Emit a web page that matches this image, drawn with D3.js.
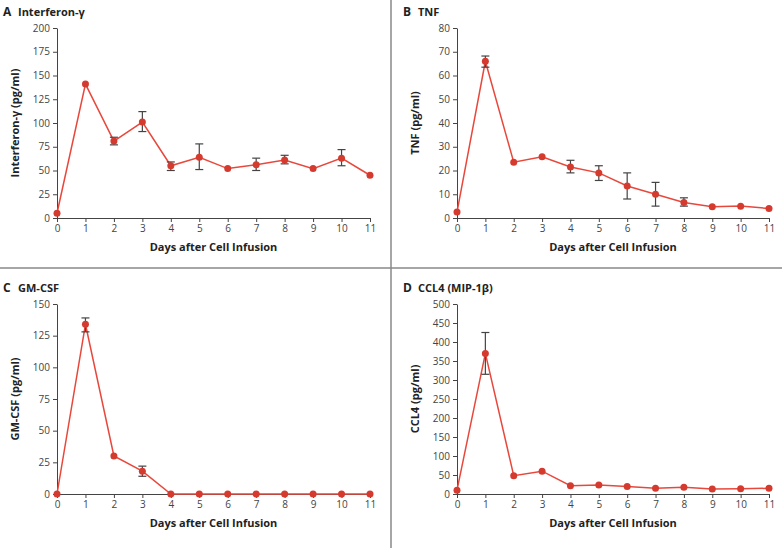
<!DOCTYPE html><html><head><meta charset="utf-8">
<script src="https://d3js.org/d3.v7.min.js"></script>
<style>body{margin:0;background:#fff}text{font-family:"Open Sans",Lato,sans-serif}</style></head><body>
<svg id="c" width="782" height="548"></svg>
<script>
const days=[0,1,2,3,4,5,6,7,8,9,10,11];
const ifnVals=[5,141,81,101,55,64,52,56,61,52,63,45];
const ifnLo=[null,null,77,91,50,51,null,50,57,null,55,null];
const ifnHi=[null,null,85,112,59,78,null,63,66,null,72,null];
const tnfVals=[2.5,66,23.5,25.8,21.5,19,13.5,10,6.5,4.7,5,4];
const tnfLo=[null,63.5,null,null,19,15.8,8,5,5,null,null,null];
const tnfHi=[null,68.2,null,null,24.3,22,19,15,8.5,null,null,null];
const gmVals=[0,134,30,18,0,0,0,0,0,0,0,0];
const gmLo=[null,128,null,14,null,null,null,null,null,null,null,null];
const gmHi=[null,139,null,22,null,null,null,null,null,null,null,null];
const cclVals=[10,370,48,60,22,24,20,15,18,13,14,15];
const cclLo=[null,315,null,null,null,null,null,null,null,null,null,null];
const cclHi=[null,425,null,null,null,null,null,null,null,null,null,null];
const panels=[
 {letter:"A",title:"Interferon-γ",ylab:"Interferon-γ (pg/ml)",vals:ifnVals,lo:ifnLo,hi:ifnHi,max:200,step:25,x0:57,x1:370,y0:218,y1:28},
 {letter:"B",title:"TNF",ylab:"TNF (pg/ml)",vals:tnfVals,lo:tnfLo,hi:tnfHi,max:80,step:10,x0:457,x1:769,y0:218,y1:28},
 {letter:"C",title:"GM-CSF",ylab:"GM-CSF (pg/ml)",vals:gmVals,lo:gmLo,hi:gmHi,max:150,step:25,x0:57,x1:370,y0:494,y1:304},
 {letter:"D",title:"CCL4 (MIP-1β)",ylab:"CCL4 (pg/ml)",vals:cclVals,lo:cclLo,hi:cclHi,max:500,step:50,x0:457,x1:769,y0:494,y1:304}];
const svg=d3.select("#c");
svg.append("line").attr("x1",391).attr("x2",391).attr("y1",0).attr("y2",548).attr("stroke","#888").attr("stroke-width",1.5);
svg.append("line").attr("x1",0).attr("x2",782).attr("y1",268).attr("y2",268).attr("stroke","#888").attr("stroke-width",1.5);
panels.forEach(p=>{
 const x=d3.scaleLinear().domain([0,11]).range([p.x0,p.x1]);
 const y=d3.scaleLinear().domain([0,p.max]).range([p.y0,p.y1]);
 const g=svg.append("g");
 const tx=p.x0-57+3, ty=p.y1-12;
 g.append("text").attr("x",tx).attr("y",ty).attr("font-size",12).attr("font-weight",700).attr("fill","#222").text(p.letter);
 g.append("text").attr("x",tx+15).attr("y",ty).attr("font-size",11).attr("font-weight",700).attr("fill","#222").text(p.title);
 const xa=g.append("g").attr("transform",`translate(0,${p.y0})`).call(d3.axisBottom(x).tickValues(days).tickSize(4).tickSizeOuter(0));
 const ya=g.append("g").attr("transform",`translate(${p.x0},0)`).call(d3.axisLeft(y).tickValues(d3.range(0,p.max+1,p.step)).tickSize(4).tickSizeOuter(0));
 [xa,ya].forEach(a=>{a.selectAll("path,line").attr("stroke","#444");a.selectAll("text").attr("font-size",10).attr("fill","#444");});
 g.append("text").attr("x",(p.x0+p.x1)/2).attr("y",p.y0+33).attr("text-anchor","middle").attr("font-size",11).attr("font-weight",700).attr("fill","#222").text("Days after Cell Infusion");
 g.append("text").attr("transform",`translate(${p.x0-38},${(p.y0+p.y1)/2}) rotate(-90)`).attr("text-anchor","middle").attr("font-size",11).attr("font-weight",700).attr("fill","#222").text(p.ylab);
 g.append("path").datum(p.vals).attr("fill","none").attr("stroke","#e8483c").attr("stroke-width",1.5)
  .attr("d",d3.line().x((d,i)=>x(days[i])).y(d=>y(d)));
 days.forEach((d,i)=>{ if(p.lo[i]==null) return;
  const e=g.append("g").attr("stroke","#444").attr("stroke-width",1.2);
  e.append("line").attr("x1",x(d)).attr("x2",x(d)).attr("y1",y(p.lo[i])).attr("y2",y(p.hi[i]));
  [p.lo[i],p.hi[i]].forEach(v=>e.append("line").attr("x1",x(d)-4).attr("x2",x(d)+4).attr("y1",y(v)).attr("y2",y(v)));
 });
 g.selectAll("circle.pt").data(p.vals).join("circle").attr("cx",(d,i)=>x(days[i])).attr("cy",d=>y(d)).attr("r",3.5).attr("fill","#d53a2f");
});
</script></body></html>
